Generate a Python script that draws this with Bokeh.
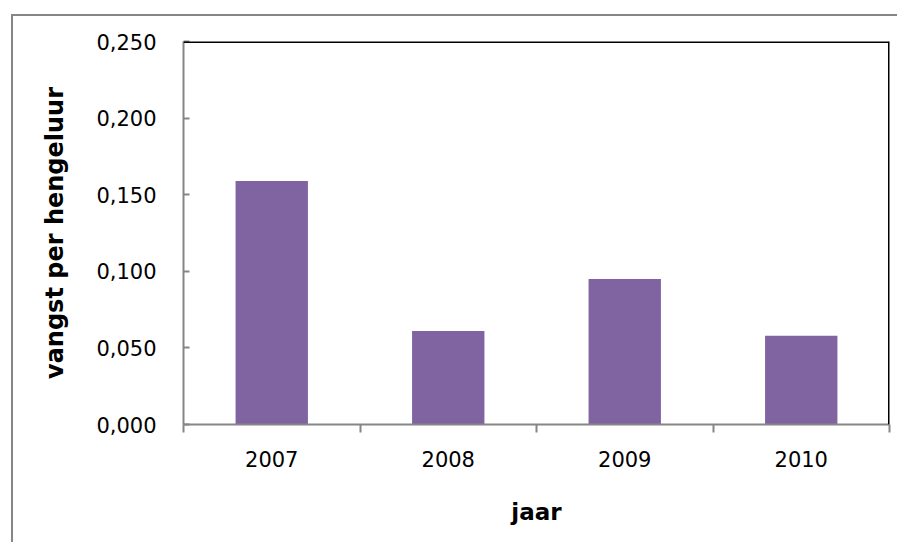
from bokeh.plotting import figure
from bokeh.models import FixedTicker, CustomJSTickFormatter, Span, Range1d, ColumnDataSource
from bokeh.embed import file_html
from bokeh.resources import INLINE

years = ["2007", "2008", "2009", "2010"]
vangst = [0.159, 0.061, 0.095, 0.058]
y_ticks = [0.0, 0.05, 0.10, 0.15, 0.20, 0.25]

x_pos = [i + 0.5 for i in range(len(years))]
src = ColumnDataSource(dict(x=x_pos, top=vangst, year=years))

FONT = "DejaVu Sans"
GRAY = "#868686"

p = figure(width=886, height=528, output_backend="svg", toolbar_location=None,
           x_range=Range1d(0, len(years)), y_range=Range1d(0, 0.25))
# outer chart border: only its top and left edges are visible in the window
p.styles = {"border-top": "2px solid #868686", "border-left": "2px solid #868686",
            "margin-top": "14px", "margin-left": "11px"}
p.min_border_left = 170
p.min_border_right = 10
p.min_border_top = 25
p.min_border_bottom = 120
p.outline_line_color = None
p.grid.visible = False
p.background_fill_color = "white"
p.border_fill_color = "white"

p.vbar(x="x", top="top", bottom=0, width=0.41, source=src, fill_color="#8064A2", line_color=None)

# top & right frame lines
p.add_layout(Span(location=0.25, dimension="width", line_color="black", line_width=3))
p.add_layout(Span(location=len(years), dimension="height", line_color="black", line_width=3))

xa = p.xaxis[0]
xa.ticker = FixedTicker(ticks=x_pos, minor_ticks=list(range(len(years) + 1)))
xa.major_label_overrides = {x: y for x, y in zip(x_pos, years)}
xa.major_tick_out = 0
xa.major_tick_in = 0
xa.minor_tick_out = 8
xa.minor_tick_in = 0
xa.minor_tick_line_color = GRAY
xa.minor_tick_line_width = 2
xa.axis_line_color = GRAY
xa.axis_line_width = 2
xa.major_label_text_font = FONT
xa.major_label_text_font_size = "21px"
xa.major_label_text_color = "black"
xa.major_label_standoff = 18
xa.axis_label = "jaar"
xa.axis_label_text_font = FONT
xa.axis_label_text_font_size = "23px"
xa.axis_label_text_font_style = "bold"
xa.axis_label_text_color = "black"
xa.axis_label_standoff = 29

ya = p.yaxis[0]
ya.ticker = FixedTicker(ticks=y_ticks, minor_ticks=[])
ya.formatter = CustomJSTickFormatter(code="return tick.toFixed(3).replace('.', ',');")
ya.major_tick_in = 6
ya.major_tick_out = 0
ya.major_tick_line_color = GRAY
ya.major_tick_line_width = 2
ya.minor_tick_line_color = None
ya.axis_line_color = GRAY
ya.axis_line_width = 2
ya.major_label_text_font = FONT
ya.major_label_text_font_size = "21px"
ya.major_label_text_color = "black"
ya.major_label_standoff = 27
ya.axis_label = "vangst per hengeluur"
ya.axis_label_text_font = FONT
ya.axis_label_text_font_size = "24px"
ya.axis_label_text_font_style = "bold"
ya.axis_label_text_color = "black"
ya.axis_label_standoff = 24

open("out.html", "w").write(file_html(p, INLINE))
